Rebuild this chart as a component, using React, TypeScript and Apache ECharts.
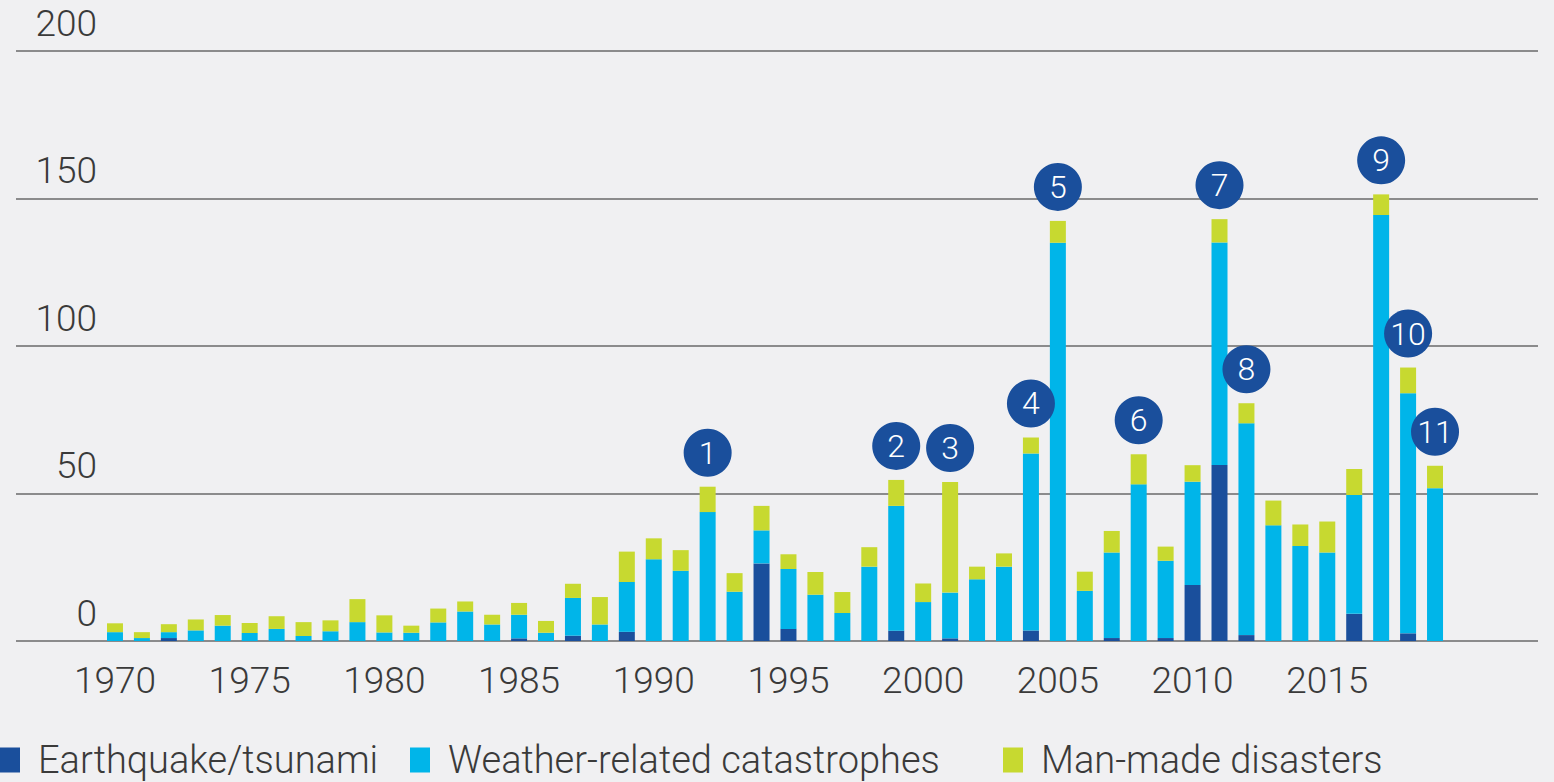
import React, { useEffect, useRef } from "react";
import * as echarts from "echarts";

const years: string[] = [
  "1970","1971","1972","1973","1974","1975","1976","1977","1978","1979",
  "1980","1981","1982","1983","1984","1985","1986","1987","1988","1989",
  "1990","1991","1992","1993","1994","1995","1996","1997","1998","1999",
  "2000","2001","2002","2003","2004","2005","2006","2007","2008","2009",
  "2010","2011","2012","2013","2014","2015","2016","2017","2018","2019",
];

const earthquake: number[] = [
  0, 0, 1, 0, 0, 0, 0, 0, 0, 0,
  0, 0, 0, 0, 0, 0.9, 0, 1.8, 0, 3.1,
  0, 0, 0, 0, 26.3, 4.1, 0, 0, 0, 3.5,
  0, 0.9, 0, 0, 3.6, 0, 0, 1, 0, 1,
  19, 59.7, 2, 0, 0, 0, 9.2, 0, 2.6, 0,
];

const weather: number[] = [
  3, 1, 2, 3.6, 5.2, 2.7, 4.1, 1.7, 3.3, 6.4,
  2.9, 2.8, 6.3, 10, 5.6, 8, 2.8, 12.8, 5.6, 16.9,
  27.7, 23.8, 43.7, 16.7, 11.2, 20.3, 15.7, 9.5, 25.2, 42.3,
  13.2, 15.5, 20.9, 25.2, 60, 135, 17, 29, 53.1, 26.2,
  35, 75.4, 71.8, 39.2, 32.2, 30, 40.3, 144.4, 81.4, 51.8,
];

const manMade: number[] = [
  3, 2, 2.7, 3.7, 3.6, 3.4, 4.3, 4.7, 3.7, 7.8,
  5.8, 2.4, 4.7, 3.4, 3.3, 4, 4, 4.8, 9.3, 10.3,
  7.1, 7, 8.6, 6.3, 8.3, 5, 7.7, 7.1, 6.6, 8.8,
  6.3, 37.5, 4.3, 4.5, 5.4, 7.4, 6.5, 7.3, 10.2, 4.8,
  5.6, 7.9, 6.8, 8.4, 7.3, 10.5, 8.8, 7, 8.7, 7.6,
];

const markerYears: string[] = ["1992", "1999", "2001", "2004", "2005", "2008", "2011", "2012", "2017", "2018", "2019"];
const markerLabels: string[] = ["1", "2", "3", "4", "5", "6", "7", "8", "9", "10", "11"];

const yTicks = { min: 0, max: 200, interval: 50 };

const seriesNames = ["Earthquake/tsunami", "Weather-related catastrophes", "Man-made disasters"];
const colors = ["#1a4f9c", "#00b5e9", "#c7d930"];
const legendLefts = [0, 410, 1003];

const FONT = "Roboto, 'Liberation Sans', sans-serif";

export default function App() {
  const ref = useRef<HTMLDivElement>(null);

  useEffect(() => {
    if (!ref.current) return;
    const chart = echarts.init(ref.current, undefined, { renderer: "svg" });

    const totals = years.map((_, i) => earthquake[i] + weather[i] + manMade[i]);
    const markData = markerYears.map((y, k) => {
      const idx = years.indexOf(y);
      return { coord: [y, totals[idx]], value: markerLabels[k] };
    });

    const legends = seriesNames.map((name, i) => ({
      left: legendLefts[i],
      top: 741,
      padding: 0,
      icon: "rect",
      itemWidth: 20,
      itemHeight: 25,
      data: [name],
      textStyle: {
        fontFamily: FONT,
        fontWeight: 300,
        fontSize: 38,
        lineHeight: 38,
        color: "#3a3a3a",
        padding: [0, 0, 0, 13],
      },
    }));

    const option: any = {
      animation: false,
      backgroundColor: "#f0f0f2",
      color: colors,
      legend: legends,
      grid: [
        { left: 16, right: 16, top: 51, bottom: 141, outerBoundsMode: "none", containLabel: false },
        { left: 101.5, right: 105.5, top: 51, bottom: 141, outerBoundsMode: "none", containLabel: false },
      ],
      xAxis: [
        { type: "value", gridIndex: 0, min: 0, max: 1, show: false },
        {
          type: "category",
          gridIndex: 1,
          data: years,
          boundaryGap: true,
          axisLine: { show: false },
          axisTick: { show: false },
          axisLabel: {
            interval: 4,
            margin: 21,
            fontFamily: FONT,
            fontWeight: 300,
            fontSize: 37,
            color: "#3a3a3a",
          },
        },
      ],
      yAxis: [
        {
          type: "value",
          gridIndex: 0,
          min: yTicks.min,
          max: yTicks.max,
          interval: yTicks.interval,
          axisLine: { show: false },
          axisTick: { show: false },
          splitLine: { lineStyle: { color: "#6a6a6a", width: 1.5 } },
          axisLabel: {
            inside: true,
            align: "right",
            margin: 81,
            verticalAlign: "bottom",
            lineHeight: 56,
            fontFamily: FONT,
            fontWeight: 300,
            fontSize: 37,
            color: "#3a3a3a",
          },
        },
        {
          type: "value",
          gridIndex: 1,
          min: yTicks.min,
          max: yTicks.max,
          interval: yTicks.interval,
          show: false,
          splitLine: { show: false },
        },
      ],
      series: [
        {
          name: seriesNames[0],
          type: "bar",
          stack: "total",
          xAxisIndex: 1,
          yAxisIndex: 1,
          barWidth: 16,
          data: earthquake,
          itemStyle: { color: colors[0] },
        },
        {
          name: seriesNames[1],
          type: "bar",
          stack: "total",
          xAxisIndex: 1,
          yAxisIndex: 1,
          barWidth: 16,
          data: weather,
          itemStyle: { color: colors[1] },
        },
        {
          name: seriesNames[2],
          type: "bar",
          stack: "total",
          xAxisIndex: 1,
          yAxisIndex: 1,
          barWidth: 16,
          data: manMade,
          itemStyle: { color: colors[2] },
          markPoint: {
            symbol: "circle",
            symbolSize: 48,
            symbolOffset: [0, -34],
            itemStyle: { color: "#1a4f9c" },
            label: {
              show: true,
              position: "inside",
              formatter: (p: any) => p.value,
              color: "#ffffff",
              fontFamily: FONT,
              fontWeight: 300,
              fontSize: 32,
            },
            data: markData,
          },
        },
      ],
    };

    chart.setOption(option);
    return () => chart.dispose();
  }, []);

  return (
    <div
      ref={ref}
      style={{ position: "fixed", left: 0, top: 0, width: 1554, height: 782 }}
    />
  );
}
